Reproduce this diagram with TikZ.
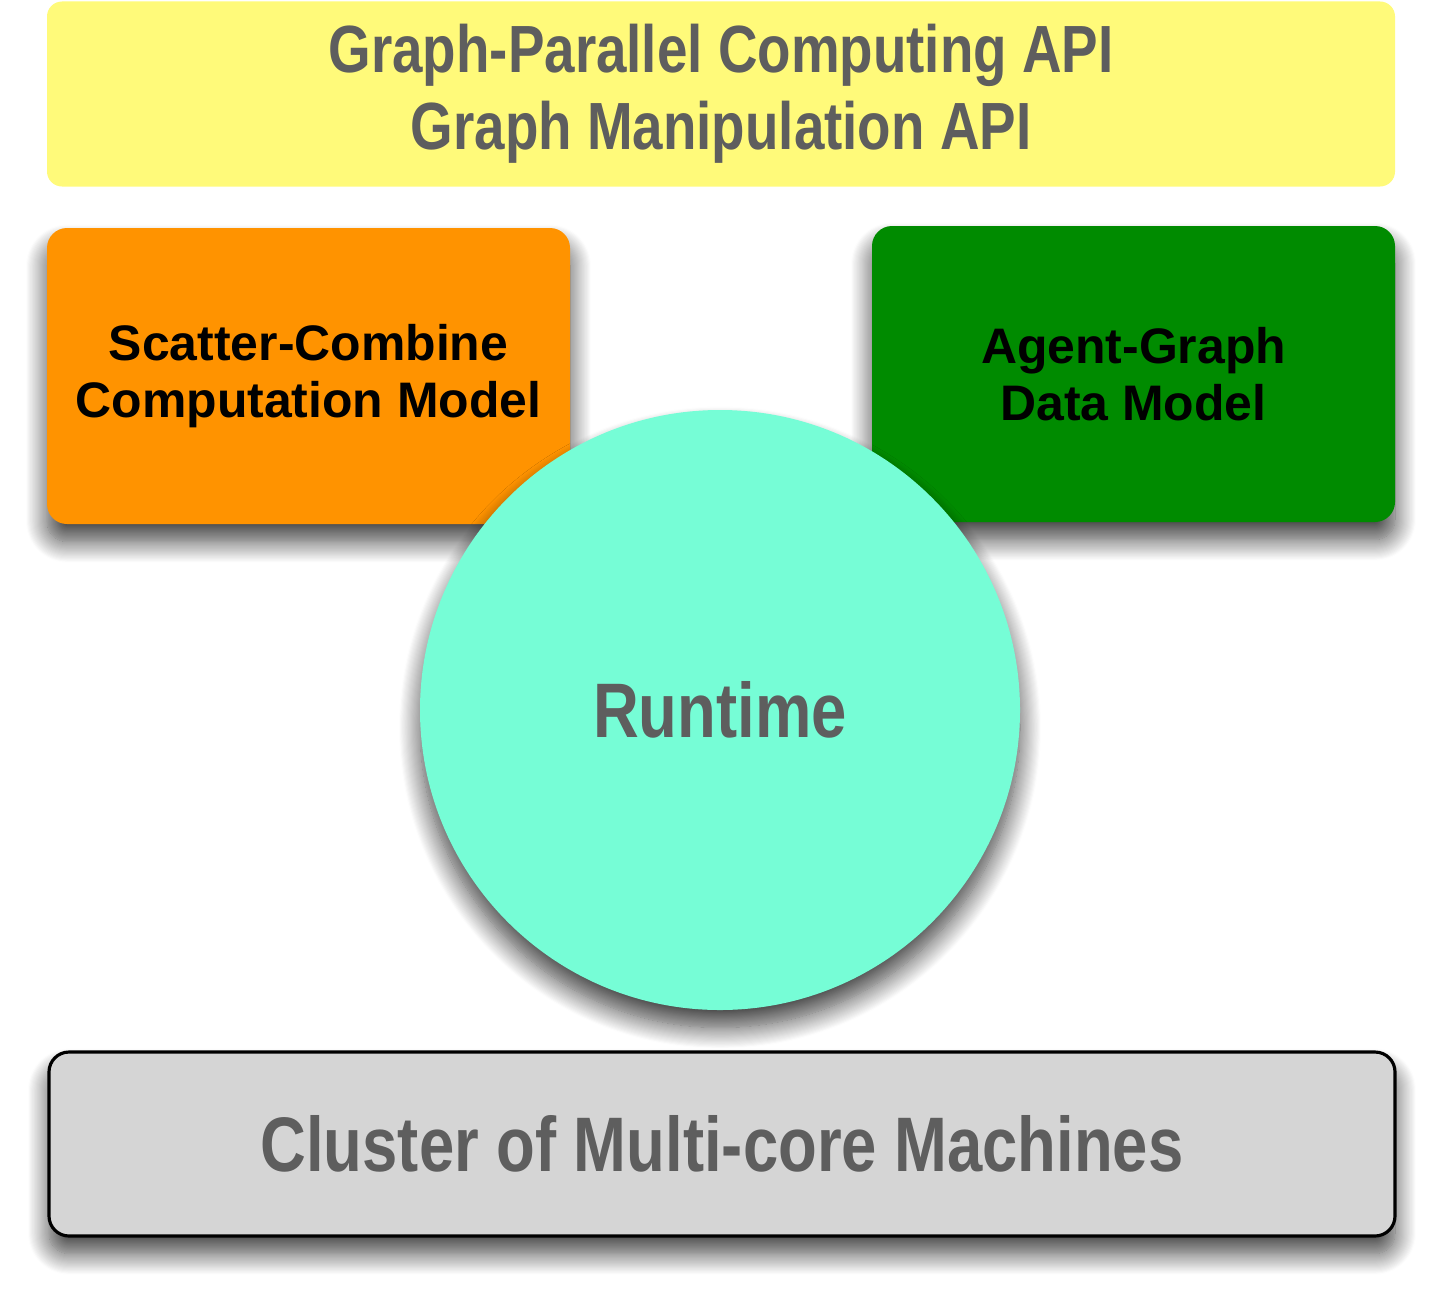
\documentclass[tikz,border=0pt]{standalone}
\usepackage{fontspec}
\setmainfont{Liberation Sans}
\newfontfamily\narrowfont{Liberation Sans}[FakeStretch=0.82]
\usetikzlibrary{shadows.blur}
\definecolor{apiYellow}{HTML}{FFFA7A}
\definecolor{modelOrange}{HTML}{FF9300}
\definecolor{modelGreen}{HTML}{008B00}
\definecolor{runMint}{HTML}{76FDD6}
\definecolor{clusterGray}{HTML}{D5D5D5}
\definecolor{textGray}{HTML}{5E5E5E}

\begin{document}
\begin{tikzpicture}[
    panel/.style={rectangle, rounded corners=0.2cm, inner sep=0pt, align=center},
    shade/.style={blur shadow={shadow xshift=0pt, shadow yshift=-5pt,
                  shadow blur radius=6pt, shadow blur steps=20, shadow opacity=75}},
    big/.style={font=\narrowfont\bfseries\fontsize{19}{21.9}\selectfont, text=textGray},
    huge/.style={font=\narrowfont\bfseries\fontsize{22}{24}\selectfont, text=textGray},
    model/.style={panel, shade, minimum width=5.23cm, minimum height=2.96cm,
                  font=\bfseries\fontsize{14.2}{16.2}\selectfont, text=black}]
    \useasboundingbox (0,0) rectangle (14.41,-12.99);
    \node[panel, big, fill=apiYellow, rounded corners=0.15cm,
          minimum width=13.48cm, minimum height=1.85cm] (api) at (7.21,-0.94)
          {Graph-Parallel Computing API\\Graph Manipulation API};
    \node[model, fill=modelOrange] (sc) at (3.085,-3.76)
          {Scatter-Combine\\Computation Model};
    \node[model, fill=modelGreen] (ag) at (11.335,-3.74)
          {Agent-Graph\\Data Model};
    \node[circle, shade, huge, fill=runMint, minimum size=6cm, inner sep=0pt] (rt)
          at (7.20,-7.10) {Runtime};
    \node[panel, shade, huge, fill=clusterGray, draw=black, line width=0.9pt,
          minimum width=13.46cm, minimum height=1.84cm] (cl) at (7.22,-11.44)
          {Cluster of Multi-core Machines};
\end{tikzpicture}
\end{document}
